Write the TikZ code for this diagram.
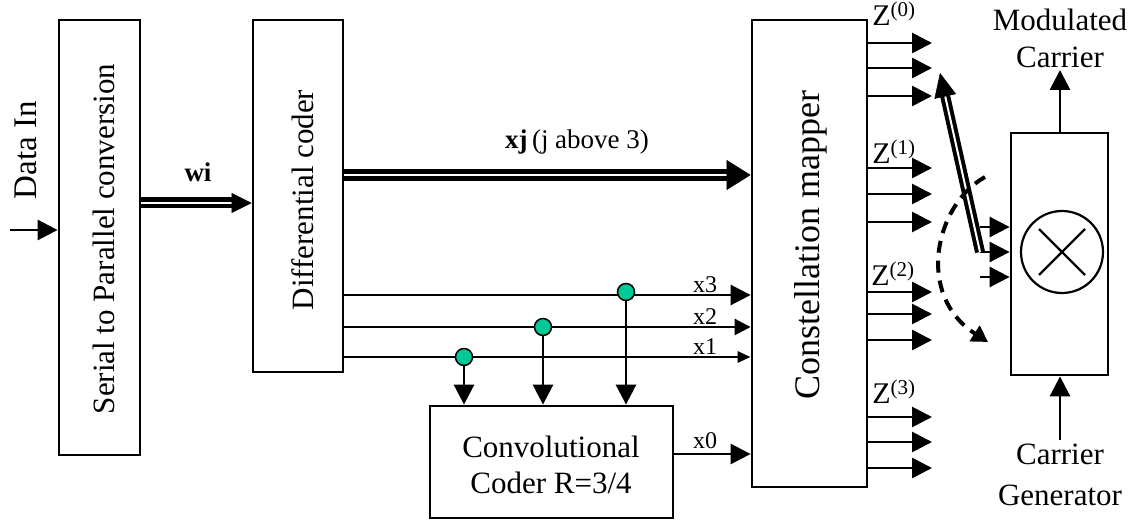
\documentclass[tikz,border=0pt]{standalone}
\usepackage{fontspec}
\setmainfont{Liberation Serif}
\usetikzlibrary{arrows.meta,calc}
\newcommand{\fsz}[1]{\fontsize{#1}{#1}\selectfont}
\definecolor{dotgreen}{RGB}{0,200,150}
\tikzset{
  box/.style={draw, line width=2.8pt, inner sep=0pt},
  conn/.style={line width=2.8pt},
  arr/.style={conn, -{Triangle[length=20pt,width=20pt]}},
  arrm/.style={conn, -{Triangle[length=16pt,width=16pt]}},
  arrs/.style={conn, -{Triangle[length=13pt,width=11pt]}},
  dbl/.style={double, double distance=2pt, line width=4.5pt},
  dot/.style={circle, draw, line width=1.5pt, fill=dotgreen, minimum size=17pt, inner sep=0pt},
  lbl/.style={font=\fsz{24}, inner sep=0pt},
  zl/.style={font=\fsz{30}, inner sep=0pt},
  big/.style={font=\fsz{31}, inner sep=0pt},
}
\begin{document}
\begin{tikzpicture}[x=1pt,y=-1pt]
\useasboundingbox (0,0) rectangle (1141,521);

% boxes
\node[box, minimum width=81pt, minimum height=435pt] (sp) at (99.5,237.5) {};
\node[box, minimum width=90pt, minimum height=352pt] (dc) at (298,196) {};
\node[box, minimum width=115pt, minimum height=467pt] (cm) at (809.5,253.5) {};
\node[box, minimum width=243pt, minimum height=112pt] (cc) at (551.5,462) {};
\node[box, minimum width=97pt, minimum height=242pt] (md) at (1059.5,254) {};

% box texts
\node[big, rotate=90] (spt) at (104,239) {Serial to Parallel conversion};
\node[big, rotate=90] (dct) at (303,200) {Differential coder};
\node[font=\fsz{36}, inner sep=0pt, rotate=90] (cmt) at (811,245) {Constellation mapper};
\node[big, align=center, font=\linespread{1.15}\fsz{31}] (cct) at (551,465) {Convolutional\\Coder R=3/4};

% data in
\node[font=\fsz{33}, inner sep=0pt, rotate=90] (din) at (26,150) {Data In};
\coordinate (dinS) at (10,230);
\draw[arr] (dinS) -- (dinS -| sp.west);

% wi
\node[font=\bfseries\fsz{27}, inner sep=0pt] (wi) at (198,172) {wi};
\coordinate (wiA) at (sp.east |- 0,203);
\coordinate (wiB) at (dc.west |- 0,203);
\draw[dbl, shorten >=18pt] (wiA) -- (wiB);
\draw[-{Triangle[length=20pt,width=20pt]}, line width=0.5pt] ($(wiB)+(-20,0)$) -- (wiB);

% xj
\node[font=\fsz{27}, inner sep=0pt] (xjl) at (577,142) {\textbf{xj}\,(j above 3)};
\coordinate (xjA) at (dc.east |- 0,175);
\coordinate (xjB) at (cm.west |- 0,175);
\draw[dbl, line width=5pt, shorten >=22pt] (xjA) -- (xjB);
\draw[-{Triangle[length=24pt,width=30pt]}, line width=0.5pt] ($(xjB)+(-24,0)$) -- (xjB);

% x lines
\draw[arr] (dc.east |- 0,295) -- (cm.west |- 0,295);
\draw[arrm] (dc.east |- 0,327) -- (cm.west |- 0,327);
\draw[arrs] (dc.east |- 0,357) -- (cm.west |- 0,357);
\draw[arr] (cc.east |- 0,454) -- (cm.west |- 0,454);
\node[lbl] (x3) at (705,285) {x3};
\node[lbl] (x2) at (705,317) {x2};
\node[lbl] (x1) at (705,347) {x1};
\node[lbl] (x0) at (705,441) {x0};

% taps
\node[dot] (d3) at (626,292) {};
\node[dot] (d2) at (543,327) {};
\node[dot] (d1) at (464,357) {};
\draw[arr] (d1) -- (d1 |- cc.north);
\draw[arr] (d2) -- (d2 |- cc.north);
\draw[arr] (d3) -- (d3 |- cc.north);

% Z outputs
\foreach \y in {43,68,96,168,194,222,292,314,340,417,442,468}{
  \draw[arr] (cm.east |- 0,\y) -- (932,\y);
}
\node[zl] (z0) at (894,14) {Z\textsuperscript{(0)}};
\node[zl] (z1) at (894,152) {Z\textsuperscript{(1)}};
\node[zl] (z2) at (893,274) {Z\textsuperscript{(2)}};
\node[zl] (z3) at (894,392) {Z\textsuperscript{(3)}};

% modulator
\node[circle, draw, line width=2.2pt, minimum size=82pt, inner sep=0pt] (mx) at (1062,252) {};
\draw[line width=2.2pt] ($(mx.center)+(-23,-23)$) -- ($(mx.center)+(23,23)$);
\draw[line width=2.2pt] ($(mx.center)+(-23,23)$) -- ($(mx.center)+(23,-23)$);

\coordinate (in1) at (980,227);
\coordinate (in2) at (980,252);
\coordinate (in3) at (980,277);
\draw[arr] (in1) -- (in1 -| md.west);
\draw[arr] (in2) -- (in2 -| md.west);
\draw[arr] (in3) -- (in3 -| md.west);

% switch
\coordinate (swtip) at (940,73);
\draw[dbl, line width=4pt, shorten >=20pt] (in2) -- (swtip);
\draw[-{Triangle[length=24pt,width=22pt]}, line width=0.5pt] ($(swtip)!24pt!(in2)$) -- (swtip);

% dashed curve
\coordinate (dsA) at (985,177);
\coordinate (dsB) at (988,342);
\draw[line width=4pt, dash pattern=on 12pt off 8pt, -{Triangle[length=16pt,width=18pt]}] (dsA) .. controls (935,205) and (915,295) .. (dsB);

% modulated carrier / carrier generator
\node[big, align=center, font=\linespread{1.2}\fsz{31}] (mc) at (1060,38) {Modulated\\Carrier};
\coordinate (mcB) at (1060,70);
\draw[arr] (md.north -| mcB) -- (mcB);
\node[big, align=center, font=\linespread{1.3}\fsz{31}] (cg) at (1060,475) {Carrier\\Generator};
\coordinate (cgB) at (1060,440);
\draw[arr] (cgB) -- (cgB |- md.south);
\end{tikzpicture}
\end{document}
